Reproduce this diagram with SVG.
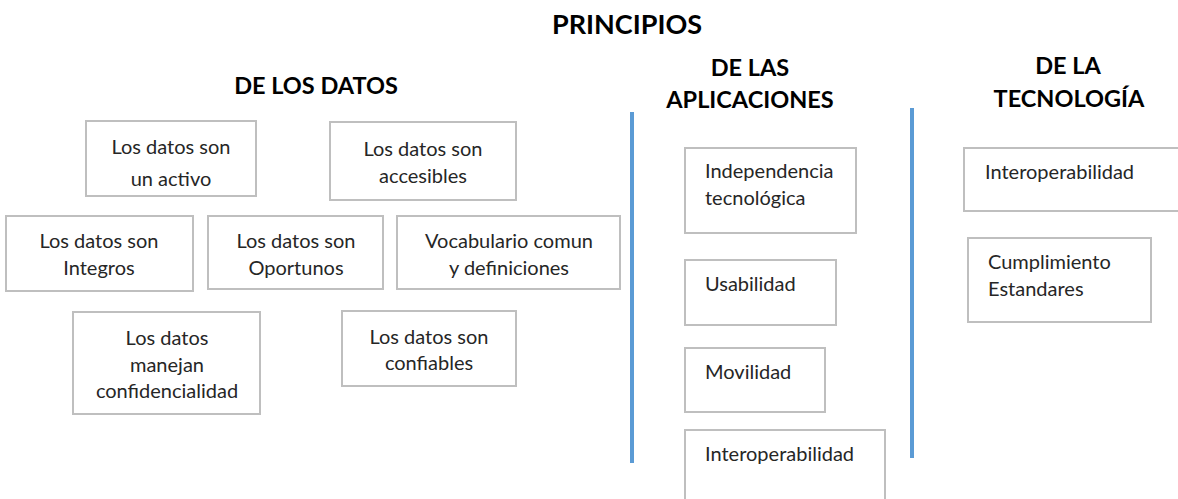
<svg xmlns="http://www.w3.org/2000/svg" width="1178" height="499" viewBox="0 0 1178 499">
<style>
.box{fill:#ffffff;stroke:#bfbfbf;stroke-width:2}
.t{font-family:Lato,"Open Sans","Liberation Sans",sans-serif;font-size:20px;fill:#262626}
.c{text-anchor:middle}
.h{font-family:Lato,"Open Sans","Liberation Sans",sans-serif;font-weight:bold;font-size:23.5px;fill:#000;text-anchor:middle}
.big{font-size:27px}
.sep{stroke:#5b9bd5;stroke-width:4}
</style>
<rect width="1178" height="499" fill="#ffffff"/>
<text class="h big" x="627" y="34">PRINCIPIOS</text>
<text class="h" x="316" y="94">DE LOS DATOS</text>
<text class="h" x="750" y="76">DE LAS</text>
<text class="h" x="750" y="108">APLICACIONES</text>
<text class="h" x="1068" y="74">DE LA</text>
<text class="h" x="1069" y="107">TECNOLOGÍA</text>
<g id="separators">
<line class="sep" x1="632" y1="112" x2="632" y2="463"/>
<line class="sep" x1="912" y1="108" x2="912" y2="458"/>
</g>
<g id="d1"><rect class="box" x="86" y="121" width="170" height="75"/><text class="t c" x="171" y="154">Los datos son</text><text class="t c" x="171" y="186">un activo</text></g>
<g id="d2"><rect class="box" x="330" y="122" width="186" height="78"/><text class="t c" x="423" y="156">Los datos son</text><text class="t c" x="423" y="183">accesibles</text></g>
<g id="d3"><rect class="box" x="6" y="216" width="187" height="75"/><text class="t c" x="99" y="248">Los datos son</text><text class="t c" x="99" y="275">Integros</text></g>
<g id="d4"><rect class="box" x="208" y="216" width="175" height="73"/><text class="t c" x="296" y="248">Los datos son</text><text class="t c" x="296" y="275">Oportunos</text></g>
<g id="d5"><rect class="box" x="397" y="216" width="223" height="73"/><text class="t c" x="509" y="248">Vocabulario comun</text><text class="t c" x="509" y="275">y definiciones</text></g>
<g id="d6"><rect class="box" x="73" y="312" width="187" height="102"/><text class="t c" x="167" y="345">Los datos</text><text class="t c" x="167" y="372">manejan</text><text class="t c" x="167" y="398">confidencialidad</text></g>
<g id="d7"><rect class="box" x="342" y="311" width="174" height="75"/><text class="t c" x="429" y="344">Los datos son</text><text class="t c" x="429" y="370">confiables</text></g>
<g id="a1"><rect class="box" x="685" y="148" width="171" height="85"/><text class="t" x="705" y="178">Independencia</text><text class="t" x="705" y="205">tecnológica</text></g>
<g id="a2"><rect class="box" x="685" y="260" width="151" height="65"/><text class="t" x="705" y="291">Usabilidad</text></g>
<g id="a3"><rect class="box" x="685" y="348" width="140" height="64"/><text class="t" x="705" y="379">Movilidad</text></g>
<g id="a4"><rect class="box" x="685" y="430" width="200" height="80"/><text class="t" x="705" y="461">Interoperabilidad</text></g>
<g id="t1"><rect class="box" x="964" y="148" width="230" height="63"/><text class="t" x="985" y="179">Interoperabilidad</text></g>
<g id="t2"><rect class="box" x="968" y="238" width="183" height="84"/><text class="t" x="988" y="269">Cumplimiento</text><text class="t" x="988" y="296">Estandares</text></g>
</svg>
